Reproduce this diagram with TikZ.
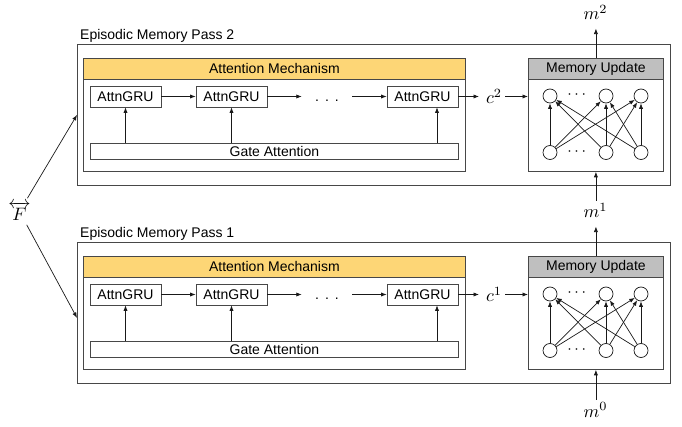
\documentclass[tikz,border=0pt]{standalone}
\usepackage{amsmath}
\usepackage{fontspec}
\setmainfont{Liberation Sans}
\usetikzlibrary{arrows.meta,calc}
\definecolor{attnfill}{HTML}{FDD676}
\definecolor{memfill}{HTML}{BFBFBF}
\tikzset{
  arr/.style={-{Latex[length=5.5pt,width=4.2pt]}, line width=0.7pt, draw=black!90},
  boxline/.style={draw=black!72, line width=0.8pt, inner sep=0pt},
  outerbox/.style={boxline, anchor=north west, minimum width=593pt, minimum height=141pt},
  bigbox/.style={boxline, anchor=north west, minimum height=113pt},
  headbox/.style={boxline, anchor=north west, minimum height=21pt},
  grubox/.style={boxline, minimum width=71pt, minimum height=21pt},
  gatebox/.style={boxline, anchor=north west, minimum width=368pt, minimum height=16pt},
  neuron/.style={circle, draw=black!90, fill=white, line width=0.7pt, minimum size=14pt, inner sep=0pt},
  mathnode/.style={font=\normalsize, scale=1.8},
  mlabel/.style={mathnode, anchor=base west, inner sep=1.2pt},
}
\newcommand\mempass[3]{%
\begin{scope}[shift={(0,#3)}]
  \node[outerbox] (outer#1) at (77,44) {};
  \node[anchor=base west, inner sep=0pt] (lab#1) at (80,40) {Episodic Memory Pass #2};
  % attention mechanism
  \node[bigbox, minimum width=382pt] (att#1) at (83,58) {};
  \node[headbox, fill=attnfill, minimum width=382pt] (atth#1) at (83,58) {Attention Mechanism};
  \node[grubox] (gruA#1) at (125.5,96.5) {AttnGRU};
  \node[grubox] (gruB#1) at (231.5,96.5) {AttnGRU};
  \node[grubox] (gruC#1) at (422.5,96.5) {AttnGRU};
  \node[inner sep=0pt, minimum width=50pt, text height=11pt, text depth=0pt] (dots#1) at (327,96.5) {.\hspace{6pt}.\hspace{6pt}.};
  \node[gatebox] (gate#1) at (90,143) {Gate Attention};
  \coordinate (gx#1) at (437,150);
  \draw[arr] (gruA#1) -- (gruB#1);
  \draw[arr] (gruB#1) -- (dots#1);
  \draw[arr] (dots#1) -- (gruC#1);
  \draw[arr] (gate#1.north -| gruA#1.south) -- (gruA#1.south);
  \draw[arr] (gate#1.north -| gruB#1.south) -- (gruB#1.south);
  \draw[arr] (gate#1.north -| gx#1) -- (gruC#1.south -| gx#1);
  % context vector
  \node[mathnode, inner sep=1.5pt] (c#1) at (494,96.5) {$c^{#2}$};
  \draw[arr, shorten >=4pt] (gruC#1) -- (c#1);
  % memory update
  \node[bigbox, minimum width=135pt] (mu#1) at (528,58) {};
  \node[headbox, fill=memfill, minimum width=135pt] (muh#1) at (528,58) {Memory Update};
  \draw[arr] (c#1.east) -- (c#1.east -| mu#1.west);
  \node[neuron] (ta#1) at (550,96) {};
  \node[neuron] (tb#1) at (606,96) {};
  \node[neuron] (tc#1) at (641,96) {};
  \node[neuron] (ba#1) at (550,152.5) {};
  \node[neuron] (bb#1) at (606,152.5) {};
  \node[neuron] (bc#1) at (641,152.5) {};
  \node[font=\normalsize, scale=1.6, inner sep=0pt] (tdots#1) at (578,95) {$\cdots$};
  \node[font=\normalsize, scale=1.6, inner sep=0pt] (bdots#1) at (578,151.5) {$\cdots$};
  \foreach \b in {a,b,c}{
    \foreach \t in {a,b,c}{
      \draw[arr] (b\b#1) -- (t\t#1);
    }
  }
\end{scope}}
\begin{document}
\begin{tikzpicture}[x=1pt,y=-1pt,font=\fontsize{14}{16}\selectfont]
\useasboundingbox (0,0) rectangle (682,427);
\mempass{2}{2}{0}
\mempass{1}{1}{198}
% memory vectors
\node[mlabel] (m2) at (581,20) {$m^2$};
\node[mlabel] (m1) at (581,218) {$m^1$};
\node[mlabel] (m0) at (581,417) {$m^0$};
\draw[arr, shorten >=6pt] (mu2.north) -- (mu2.north |- m2.south);
\draw[arr] (mu2.south |- m1.north) -- (mu2.south);
\draw[arr, shorten >=6pt] (mu1.north) -- (mu1.north |- m1.south);
\draw[arr] (mu1.south |- m0.north) -- (mu1.south);
% facts
\node[font=\normalsize, scale=1.8, inner sep=1pt] (F) at (19.5,211.5) {$\overleftrightarrow{F}$};
\draw[arr, shorten <=2pt] (F) -- (outer2.west);
\draw[arr, shorten <=2pt] (F) -- ($(outer1.west)+(0,5)$);
\end{tikzpicture}
\end{document}
